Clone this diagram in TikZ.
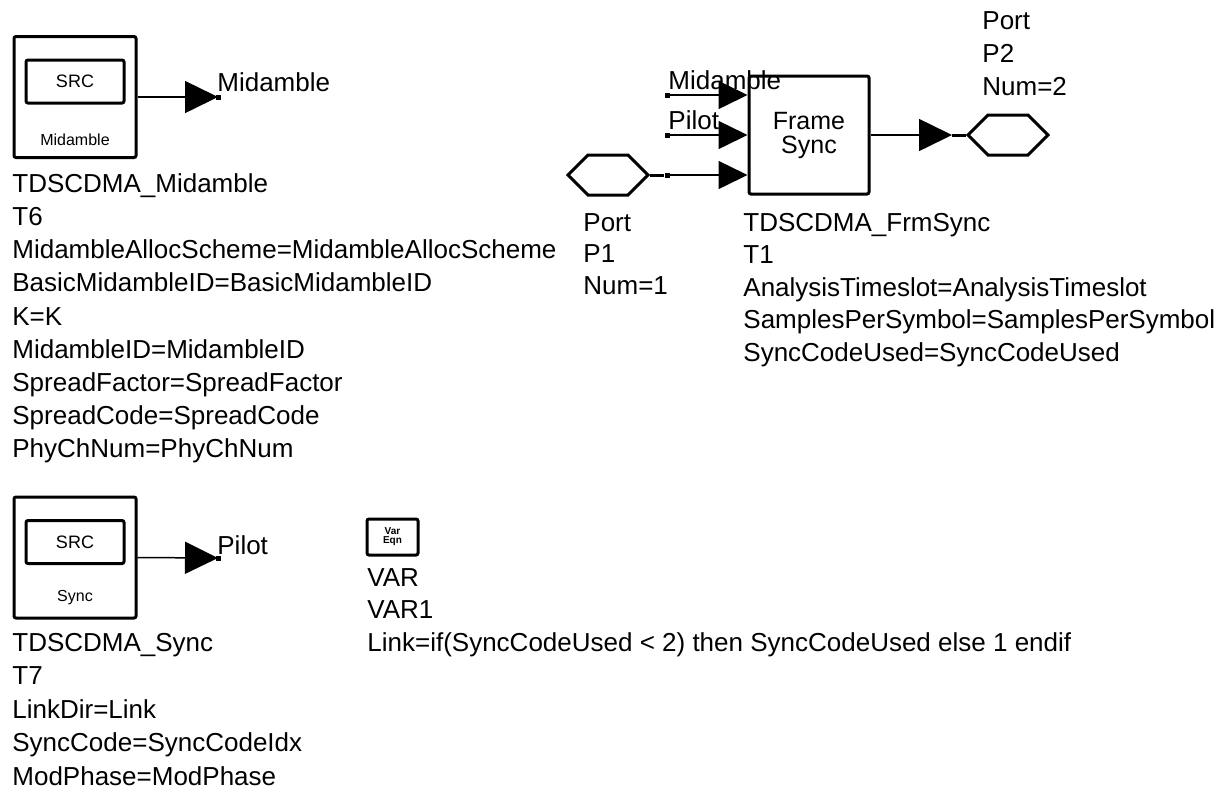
\documentclass[tikz,border=0pt]{standalone}
\usepackage{fontspec}
\setmainfont{Liberation Sans}
\usetikzlibrary{arrows.meta, positioning, shapes.symbols}
\tikzstyle{block} = [rectangle, draw=black, line width=1.5pt, rounded corners=1pt, inner sep=0pt]
\tikzstyle{inbox} = [rectangle, draw=black, line width=1.5pt, rounded corners=1pt, minimum width=49pt, minimum height=21.5pt, font=\fontsize{9}{9}\selectfont]
\tikzstyle{port} = [signal, signal to=west and east, draw=black, line width=1.5pt, minimum width=40pt, minimum height=20pt, inner sep=0pt]
\tikzstyle{pin} = [line width=0.75pt, -{Triangle[length=16.5pt, width=16pt]}]
\tikzstyle{pinb} = [line width=0.75pt, -{Triangle[length=14.5pt, width=14pt]}]
\tikzstyle{lbl} = [anchor=west, inner sep=0pt, text height=9.3pt, text depth=0pt, font=\fontsize{13}{13}\selectfont]
\tikzstyle{dot} = [rectangle, fill=black, minimum size=2.5pt, inner sep=0pt]

\begin{document}
\begin{tikzpicture}[x=0.5pt, y=-0.5pt]
\useasboundingbox (0,0) rectangle (1225,789);
% midamble source
\node (mid) [block, minimum width=61pt, minimum height=60.5pt] at (75,97) {};
\node (midsrc) [inbox] at (75,81.5) {SRC};
\node (midname) [font=\fontsize{8}{8}\selectfont] at (75,140) {Midamble};
\coordinate (midout) at (218,97);
\draw [pin] (mid.east) -- (midout);
\node (midtip) [dot] at (midout) {};
\node (midlbl) [lbl] at (217,82) {Midamble};
\foreach \t [count=\i from 0] in {TDSCDMA\_Midamble, T6, MidambleAllocScheme=MidambleAllocScheme, BasicMidambleID=BasicMidambleID, K=K, MidambleID=MidambleID, SpreadFactor=SpreadFactor, SpreadCode=SpreadCode, PhyChNum=PhyChNum}
  \node (midp\i) [lbl] at (12,183+33.2*\i) {\t};

% sync source
\node (syn) [block, minimum width=61pt, minimum height=60.5pt] at (75,557.5) {};
\node (synsrc) [inbox] at (75,542) {SRC};
\node (synname) [font=\fontsize{8}{8}\selectfont] at (75,598) {Sync};
\coordinate (synout) at (218,558);
\draw [pin] (syn.east) -- (synout);
\node (syntip) [dot] at (synout) {};
\node (synlbl) [lbl] at (217,545) {Pilot};
\foreach \t [count=\i from 0] in {TDSCDMA\_Sync, T7, LinkDir=Link, SyncCode=SyncCodeIdx, ModPhase=ModPhase}
  \node (synp\i) [lbl] at (12,642+33.5*\i) {\t};

% variables
\node (var) [block, minimum width=25.5pt, minimum height=18pt, align=center, font=\fontsize{5}{4.5}\selectfont\bfseries] at (392.5,537) {Var\\Eqn};
\foreach \t [count=\i from 0] in {VAR, VAR1, Link=if(SyncCodeUsed < 2) then SyncCodeUsed else 1 endif}
  \node (varp\i) [lbl] at (367,577+32.5*\i) {\t};

% frame sync
\node (frm) [block, minimum width=60pt, minimum height=59pt, align=center, font=\fontsize{12.5}{12}\selectfont] at (809,135) {Frame\\Sync};
\node (dmid) [dot] at (667,95) {};
\node (dpil) [dot] at (667,135) {};
\node (dp1) [dot] at (667,175) {};
\draw [pinb] (dmid) -- ([yshift=20pt]frm.west);
\draw [pinb] (dpil) -- (frm.west);
\draw [pinb] (dp1) -- ([yshift=-20pt]frm.west);
\node (inmid) [lbl] at (668,80) {Midamble};
\node (inpil) [lbl] at (668,120) {Pilot};
\foreach \t [count=\i from 0] in {TDSCDMA\_FrmSync, T1, AnalysisTimeslot=AnalysisTimeslot, SamplesPerSymbol=SamplesPerSymbol, SyncCodeUsed=SyncCodeUsed}
  \node (frmp\i) [lbl] at (743,222+32.5*\i) {\t};

% ports
\node (p1) [port] at (608,175) {};
\draw [line width=1.5pt] (p1.east) -- (dp1);
\foreach \t [count=\i from 0] in {Port, P1, Num=1}
  \node (p1l\i) [lbl] at (583,222+31.5*\i) {\t};
\node (p2) [port] at (1008,135) {};
\coordinate (frmout) at (952,135);
\draw [pin] (frm.east) -- (frmout);
\draw [line width=1.5pt] (frmout) -- (p2.west);
\foreach \t [count=\i from 0] in {Port, P2, Num=2}
  \node (p2l\i) [lbl] at (982,20+33*\i) {\t};
\end{tikzpicture}
\end{document}
